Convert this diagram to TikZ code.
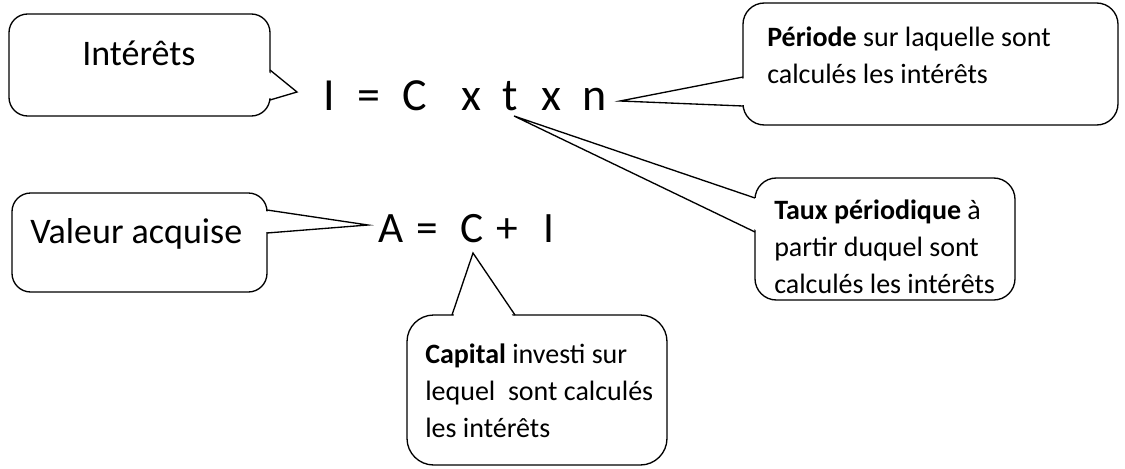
\documentclass[tikz,border=0pt]{standalone}
\usepackage{fontspec}
\setmainfont{Carlito}
\begin{document}
\begin{tikzpicture}[x=0.75pt,y=-0.75pt,
  box/.style={draw=black, line width=1pt, fill=white},
  wedge/.style={draw=black, line width=1pt, line join=miter},
  label/.style={font=\fontsize{27}{33}\selectfont, inner sep=0, anchor=base west},
  formula/.style={font=\fontsize{34.5}{40}\selectfont, inner sep=0, anchor=base},
  formulab/.style={font=\fontsize{32.5}{38}\selectfont, inner sep=0, anchor=base},
  note/.style={font=\fontsize{21}{27.75}\selectfont, inner sep=0, align=left, anchor=base west}]
\useasboundingbox (0,0) rectangle (1125,468);

% formula I = C x t x n
\node[formula] (fI)  at (329.5,110) {I};
\node[formula] (fe1) at (369,110) {=};
\node[formula] (fC)  at (415,110) {C};
\node[formula] (fx1) at (471,110) {x};
\node[formula] (ft)  at (510,110) {t};
\node[formula] (fx2) at (551.5,110) {x};
\node[formula] (fn)  at (595,110) {n};

% formula A = C + I
\node[formulab] (gA) at (391.5,242) {A};
\node[formulab] (ge) at (427,242) {=};
\node[formulab] (gC) at (472,242) {C};
\node[formulab] (gp) at (507.5,242) {+};
\node[formulab] (gI) at (549,242) {I};

% pointer tips
\coordinate (tInt) at (297,92);
\coordinate (tPer) at (620,101);
\coordinate (tTau) at (514,116);
\coordinate (tVal) at (368,225);
\coordinate (tCap) at (473,253);

% Interets callout
\draw[box, rounded corners=14pt] (9,14) rectangle (270,116);
\fill[white] (267,71) -- (tInt) -- (267,99) -- cycle;
\draw[wedge] (270,70) -- (tInt) -- (270,100);
\node[label] (tx1) at (82,65) {Intérêts};

% Periode callout
\draw[box, rounded corners=16pt] (743,3) rectangle (1118,125);
\fill[white] (746,78) -- (tPer) -- (746,105) -- cycle;
\draw[wedge] (743,77) -- (tPer) -- (743,106);
\node[note] (tx2) at (767,83) {\textbf{Période} sur laquelle sont\\calculés les intérêts};

% Taux callout
\draw[box, rounded corners=16pt] (755,178) rectangle (1015,300);
\fill[white] (758,199) -- (tTau) -- (758,231) -- cycle;
\draw[wedge] (755,198) -- (tTau) -- (755,232);
\node[note] (tx3) at (774,293) {\textbf{Taux périodique} à\\partir duquel sont\\calculés les intérêts};

% Valeur callout
\draw[box, rounded corners=14pt] (12,193) rectangle (267,292);
\fill[white] (264,211) -- (tVal) -- (264,232) -- cycle;
\draw[wedge] (267,210) -- (tVal) -- (267,233);
\node[label] (tx4) at (30,243) {Valeur acquise};

% Capital callout
\draw[box, rounded corners=20pt] (407,315) rectangle (667,465);
\fill[white] (453,318) -- (tCap) -- (514,318) -- cycle;
\draw[wedge] (452,315) -- (tCap) -- (515,315);
\node[note] (tx5) at (425,437) {\textbf{Capital} investi sur\\lequel\ \ sont calculés\\les intérêts};
\end{tikzpicture}
\end{document}
